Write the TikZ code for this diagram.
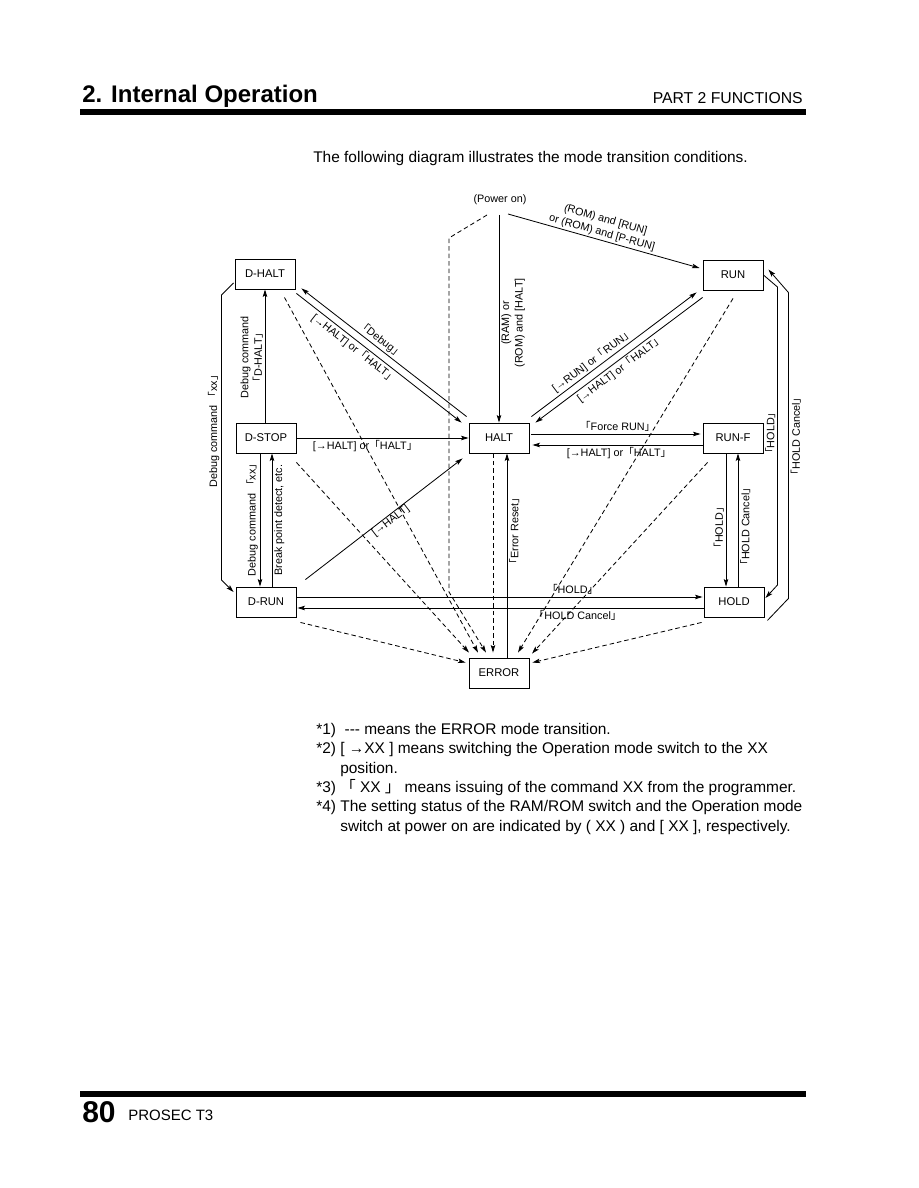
\documentclass[tikz,border=0pt]{standalone}
\usepackage{fontspec}
\setmainfont{Liberation Sans}
\newfontfamily\cjk{Noto Sans CJK JP}
\usetikzlibrary{arrows.meta,calc}
\newcommand{\cmdbr}[1]{{\cjk 「}#1{\cjk 」}}

\begin{document}
\begin{tikzpicture}[
    x=0.6667pt, y=-0.6667pt,
    >={Stealth[length=5pt,width=3pt,inset=1pt]},
    every node/.style={font=\fontsize{7.2}{9}\selectfont},
    mode/.style={draw, line width=0.6pt, minimum width=40pt,
      minimum height=20pt, inner sep=0pt, font=\fontsize{7.5}{9}\selectfont},
    tr/.style={->, line width=0.55pt},
    err/.style={->, line width=0.55pt, dash pattern=on 3pt off 2pt},
    lbl/.style={align=center, inner sep=1.2pt},
    page/.style={inner sep=0pt, anchor=base west}]
    % Page and its rules.
    \useasboundingbox (0,0) rectangle (918,1188);
    \fill[white] (0,0) rectangle (918,1188);
    \fill (80,109) rectangle (806,115);
    \fill (80,1091) rectangle (806,1097);
    \node[page, font=\bfseries\fontsize{16}{18}\selectfont] (title) at (82,103) {2. Internal Operation};
    \node[page, anchor=base east, font=\fontsize{10.5}{12}\selectfont] (part) at (803,104) {PART 2 FUNCTIONS};
    \node[page, font=\fontsize{10.3}{12}\selectfont] (intro) at (313,163)
        {The following diagram illustrates the mode transition conditions.};
    \node[page, font=\bfseries\fontsize{20}{22}\selectfont] (pgno) at (82,1122) {80};
    \node[page, font=\fontsize{10}{12}\selectfont] (book) at (128,1120) {PROSEC T3};

    % Modes.
    \node[mode] (dhalt) at (265,274) {D-HALT};
    \node[mode] (dstop) at (266,438) {D-STOP};
    \node[mode] (drun) at (266,602) {D-RUN};
    \node[mode] (halt) at (499,438) {HALT};
    \node[mode] (run) at (733,275) {RUN};
    \node[mode] (runf) at (733,438) {RUN-F};
    \node[mode] (hold) at (734,602) {HOLD};
    \node[mode] (error) at (499,673) {ERROR};

    % Power on.
    \node (pwr) at (500,200) {(Power on)};
    \coordinate (pwrerr) at (487,215);
    \coordinate (pwrhalt) at (499,215);
    \coordinate (pwrrun) at (508,214);
    \draw[tr] (pwrhalt) -- node[lbl, rotate=90, anchor=north, pos=.52]
        {(RAM) or\\(ROM) and [HALT]} (halt.north);
    \draw[tr] (pwrrun) -- node[lbl, sloped, above, pos=.48]
        {(ROM) and [RUN]\\or (ROM) and [P-RUN]} ($(run.west)+(-3,-7)$);

    % Debug modes.
    \draw[tr] (dstop.north -| dhalt.south) -- node[lbl, rotate=90, anchor=south, pos=.49]
        {Debug command\\\cmdbr{D-HALT}} (dhalt.south);
    \draw[tr] ($(dstop.south)+(-6,0)$) -- node[lbl, rotate=90, anchor=south, pos=.48]
        {Debug command \cmdbr{xx}} ($(drun.north)+(-6,0)$);
    \draw[tr] ($(drun.north)+(6,0)$) -- node[lbl, rotate=90, anchor=north, pos=.5]
        {Break point detect, etc.} ($(dstop.south)+(6,0)$);
    \draw[tr] ($(dhalt.west)+(-1,9)$) -- ++(-12,12)
        -- node[lbl, rotate=90, anchor=south, pos=.47] {Debug command \cmdbr{xx}}
        ($(drun.west)+(-14,-22)$) -- ($(drun.west)+(-2,-10)$);

    % To and from HALT.
    \draw[tr] ($(halt.north west)+(-2,-6)$) -- node[lbl, sloped, above, pos=.55]
        {\cmdbr{Debug}} ($(dhalt.south east)+(6,-1)$);
    \draw[tr] ($(dhalt.south east)+(1,4)$) -- node[lbl, sloped, below, pos=.38]
        {[→HALT] or\cmdbr{HALT}} ($(halt.north west)+(-7,0)$);
    \draw[tr] (dstop.east) -- node[lbl, below, pos=.4]
        {[→HALT] or\cmdbr{HALT}} (halt.west);
    \draw[tr] ($(drun.north east)+(9,-7)$) -- node[lbl, sloped, below=-1pt, pos=.52]
        {[→HALT]} ($(halt.south west)+(-6,5)$);
    \draw[tr] ($(halt.north east)+(2,-6)$) -- node[lbl, sloped, above, pos=.4]
        {[→RUN] or\cmdbr{RUN}} ($(run.south west)+(-6,2)$);
    \draw[tr] ($(run.south west)+(0,7)$) -- node[lbl, sloped, below, pos=.52]
        {[→HALT] or\cmdbr{HALT}} ($(halt.north east)+(6,0)$);
    \draw[tr] ($(halt.east)+(2,-4)$) -- node[lbl, above, pos=.51]
        {\cmdbr{Force RUN}} ($(runf.west)+(-2,-4)$);
    \draw[tr] ($(runf.west)+(0,7)$) -- node[lbl, below, pos=.49]
        {[→HALT] or\cmdbr{HALT}} ($(halt.east)+(3,7)$);
    \draw[tr] ($(error.north)+(8,0)$) -- node[lbl, rotate=90, anchor=north, pos=.62]
        {\cmdbr{Error Reset}} ($(halt.south)+(8,0)$);

    % HOLD.
    \draw[tr] ($(drun.east)+(0,-5)$) -- node[lbl, above, pos=.68]
        {\cmdbr{HOLD}} ($(hold.west)+(-1,-5)$);
    \draw[tr] ($(hold.west)+(0,6)$) -- node[lbl, below, pos=.31]
        {\cmdbr{HOLD Cancel}} ($(drun.east)+(1,6)$);
    \draw[tr] ($(runf.south)+(-7,0)$) -- node[lbl, rotate=90, anchor=south, pos=.56]
        {\cmdbr{HOLD}} ($(hold.north)+(-8,0)$);
    \draw[tr] ($(hold.north)+(4,0)$) -- node[lbl, rotate=90, anchor=north, pos=.45]
        {\cmdbr{HOLD Cancel}} ($(runf.south)+(5,0)$);
    \draw[tr] (run.east) -- ++(14,12)
        -- node[lbl, rotate=90, anchor=south, pos=.49] {\cmdbr{HOLD}}
        ($(hold.east)+(13,-17)$) -- ($(hold.east)+(1,-4)$);
    \draw[tr] ($(hold.south east)+(3,3)$) -- ++(21,-22)
        -- node[lbl, rotate=90, anchor=north, pos=.53] {\cmdbr{HOLD Cancel}}
        ($(run.north east)+(25,33)$) -- ($(run.north east)+(5,10)$);

    % ERROR transitions (dashed).
    \draw[err] (pwrerr) -- ++(-38,23) -- ++(0,354) -- ($(error.north)+(-13,-5)$);
    \draw[err] ($(dhalt.south east)+(-11,8)$) -- ($(error.north)+(-21,-5)$);
    \draw[err] ($(dstop.south east)+(0,9)$) -- ($(error.north)+(-30,-5)$);
    \draw[err] ($(halt.south)+(-6,0)$) -- ($(error.north)+(-6,-5)$);
    \draw[err] ($(run.south)+(0,8)$) -- ($(error.north)+(19,-5)$);
    \draw[err] ($(runf.south west)+(5,9)$) -- ($(error.north)+(33,-4)$);
    \draw[err] ($(drun.south east)+(4,5)$) -- ($(error.north west)+(-3,5)$);
    \draw[err] ($(hold.south west)+(-2,5)$) -- ($(error.north east)+(3,5)$);

    % Notes.
    \begin{scope}[every node/.style={page, font=\fontsize{10.3}{12.9}\selectfont}]
    \node (note1) at (316,734) {*1)\ \ {-}{-}{-} means the ERROR mode transition.};
    \node (note2) at (316,753) {*2) [ →XX ] means switching the Operation mode switch to the XX};
    \node (note2b) at (340,773) {position.};
    \node (note3) at (316,792) {*3) \cmdbr{ XX } means issuing of the command XX from the programmer.};
    \node (note4) at (316,811) {*4) The setting status of the RAM/ROM switch and the Operation mode};
    \node (note4b) at (340,831) {switch at power on are indicated by ( XX ) and [ XX ], respectively.};
    \end{scope}
\end{tikzpicture}
\end{document}
